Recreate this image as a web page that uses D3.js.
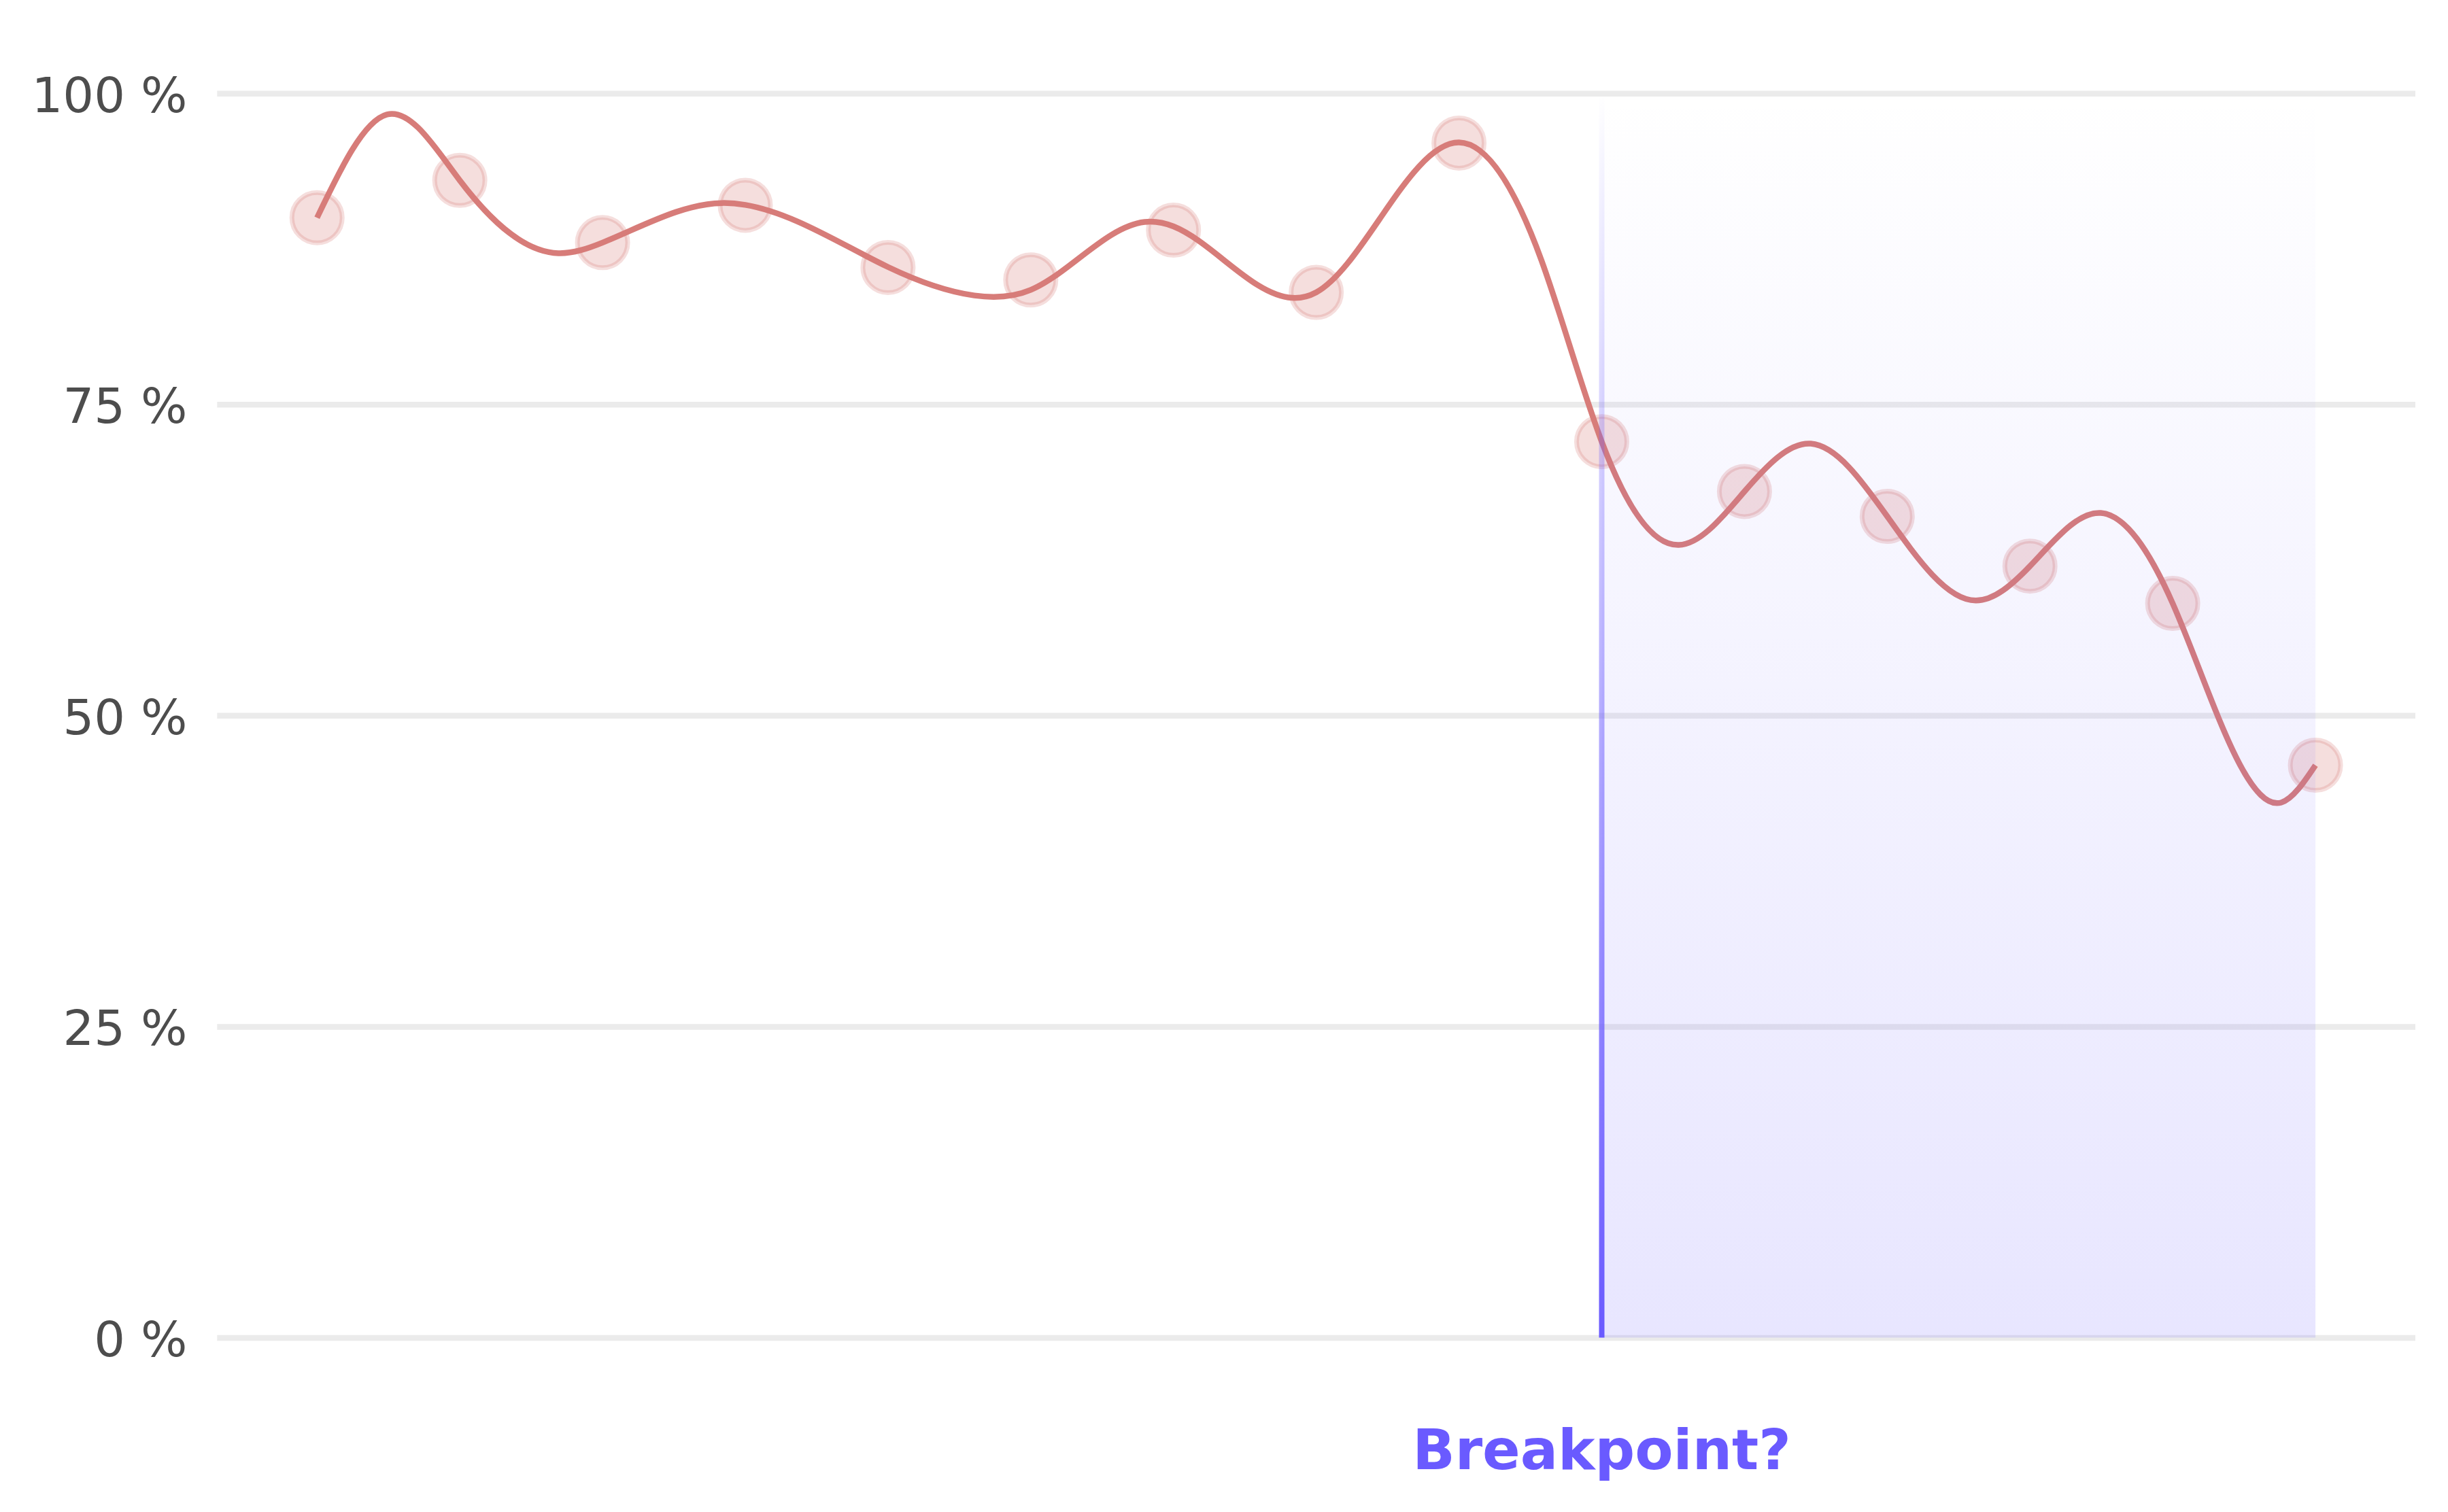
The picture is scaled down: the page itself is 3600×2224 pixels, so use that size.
<!DOCTYPE html>
<html>
<head>
<meta charset="utf-8">
<script src="https://cdn.jsdelivr.net/npm/d3@7"></script>
<style>
  html, body { margin: 0; padding: 0; background: #ffffff; }
  svg { display: block; font-family: "DejaVu Sans", sans-serif; }
</style>
</head>
<body>
<svg id="chart" width="3600" height="2224"></svg>
<script>
// ---- data ----
const periods = [0, 1, 2, 3, 4, 5, 6, 7, 8, 9, 10, 11, 12, 13, 14];
const shares  = [90, 93, 88, 91, 86, 85, 89, 84, 96, 72, 68, 66, 62, 59, 46];

// smooth trend line (position, value)
const trendPos = [0, 0.49, 1, 1.69, 2, 2.835, 3, 4, 4.605, 5, 5.797, 6, 6.83, 7, 8, 8.577, 9, 9.54, 10, 10.465, 11, 11.62, 12, 12.497, 13, 13.76, 14];
const trendVal = [90, 98.3, 93, 87.15, 88, 91.18, 91.03, 86.04, 83.75, 84.2, 89.66, 89.3, 83.56, 84.0, 96.05, 86.6, 72, 63.7, 68, 71.84, 66, 59.24, 62, 66.27, 59, 43.0, 46];

const yTicks = [0, 25, 50, 75, 100];
const yTickLabels = ["0 %", "25 %", "50 %", "75 %", "100 %"];

const breakIndex = 9;
const breakLabel = "Breakpoint?";

// ---- custom d3 curve: natural cubic spline y(x) with non-uniform x ----
function curveNaturalX(context) {
  let xs, ys;
  return {
    areaStart() {}, areaEnd() {},
    lineStart() { xs = []; ys = []; },
    point(px, py) { xs.push(+px); ys.push(+py); },
    lineEnd() {
      const n = xs.length;
      if (!n) return;
      context.moveTo(xs[0], ys[0]);
      if (n === 1) return;
      const h = [];
      for (let i = 0; i < n - 1; i++) h.push(xs[i + 1] - xs[i]);
      const M = new Array(n).fill(0);
      if (n > 2) {
        const m = n - 2;
        const a = new Array(m), b = new Array(m), c = new Array(m), r = new Array(m);
        for (let k = 0; k < m; k++) {
          const i = k + 1;
          a[k] = h[i - 1];
          b[k] = 2 * (h[i - 1] + h[i]);
          c[k] = h[i];
          r[k] = 6 * ((ys[i + 1] - ys[i]) / h[i] - (ys[i] - ys[i - 1]) / h[i - 1]);
        }
        for (let k = 1; k < m; k++) {
          const w = a[k] / b[k - 1];
          b[k] -= w * c[k - 1];
          r[k] -= w * r[k - 1];
        }
        const sol = new Array(m);
        sol[m - 1] = r[m - 1] / b[m - 1];
        for (let k = m - 2; k >= 0; k--) sol[k] = (r[k] - c[k] * sol[k + 1]) / b[k];
        for (let k = 0; k < m; k++) M[k + 1] = sol[k];
      }
      for (let i = 0; i < n - 1; i++) {
        const hi = h[i];
        const s = (ys[i + 1] - ys[i]) / hi;
        const m0 = s - hi * (2 * M[i] + M[i + 1]) / 6;
        const m1 = s + hi * (M[i] + 2 * M[i + 1]) / 6;
        context.bezierCurveTo(
          xs[i] + hi / 3, ys[i] + m0 * hi / 3,
          xs[i + 1] - hi / 3, ys[i + 1] - m1 * hi / 3,
          xs[i + 1], ys[i + 1]);
      }
    }
  };
}

// ---- layout ----
const W = 3600, H = 2224;
const plotLeft = 319.3, plotRight = 3552;
const yTop = 137.2, yBottom = 1967.5;

const svg = d3.select("#chart");
svg.append("rect").attr("width", W).attr("height", H).attr("fill", "#ffffff");

const x = d3.scaleLinear().domain([-0.7, 14.7]).range([plotLeft, plotRight]);
const y = d3.scaleLinear().domain([0, 100]).range([yBottom, yTop]);

const defs = svg.append("defs");
const shadeGrad = defs.append("linearGradient")
  .attr("id", "shadeGrad").attr("x1", 0).attr("y1", 0).attr("x2", 0).attr("y2", 1);
shadeGrad.append("stop").attr("offset", "0%").attr("stop-color", "#6a5cff").attr("stop-opacity", 0);
shadeGrad.append("stop").attr("offset", "100%").attr("stop-color", "#6a5cff").attr("stop-opacity", 0.155);

const lineGrad = defs.append("linearGradient")
  .attr("id", "lineGrad").attr("gradientUnits", "userSpaceOnUse")
  .attr("x1", 0).attr("y1", y(100)).attr("x2", 0).attr("y2", y(0));
lineGrad.append("stop").attr("offset", "0%").attr("stop-color", "#6a5aff").attr("stop-opacity", 0);
lineGrad.append("stop").attr("offset", "100%").attr("stop-color", "#6a5aff").attr("stop-opacity", 1);

// ---- gridlines + y labels ----
const yAxis = d3.axisLeft(y)
  .tickValues(yTicks)
  .tickFormat((d, i) => yTickLabels[i])
  .tickSize(-(plotRight - plotLeft))
  .tickPadding(44);

const gAxis = svg.append("g").attr("transform", `translate(${plotLeft},0)`).call(yAxis);
gAxis.select(".domain").remove();
gAxis.selectAll(".tick line").attr("stroke", "#ebebeb").attr("stroke-width", 8.5);
gAxis.selectAll(".tick text")
  .attr("fill", "#4d4d4d")
  .attr("font-size", 72)
  .attr("font-family", "DejaVu Sans, sans-serif")
  .attr("dy", "0.375em");

// ---- points ----
svg.append("g").selectAll("circle")
  .data(periods)
  .join("circle")
  .attr("cx", (d) => x(d))
  .attr("cy", (d, i) => y(shares[i]))
  .attr("r", 37)
  .attr("fill", "#d77c79").attr("fill-opacity", 0.25)
  .attr("stroke", "#d77c79").attr("stroke-opacity", 0.25)
  .attr("stroke-width", 7);

// ---- trend curve ----
const trend = trendPos.map((p, i) => ({ p, v: trendVal[i] }));
const line = d3.line().x(d => x(d.p)).y(d => y(d.v)).curve(curveNaturalX);
svg.append("path")
  .datum(trend)
  .attr("d", line)
  .attr("fill", "none")
  .attr("stroke", "#d77c79")
  .attr("stroke-width", 8.5)
  .attr("stroke-linecap", "butt");

// ---- shaded region after breakpoint ----
svg.append("rect")
  .attr("x", x(breakIndex))
  .attr("y", y(100))
  .attr("width", x(periods[periods.length - 1]) - x(breakIndex))
  .attr("height", y(0) - y(100))
  .attr("fill", "url(#shadeGrad)");

svg.append("line")
  .attr("x1", x(breakIndex)).attr("x2", x(breakIndex) + 0.001)
  .attr("y1", y(100)).attr("y2", y(0))
  .attr("stroke", "url(#lineGrad)")
  .attr("stroke-width", 8);

svg.append("text")
  .attr("x", x(breakIndex))
  .attr("y", 2161)
  .attr("text-anchor", "middle")
  .attr("font-family", "DejaVu Sans, sans-serif")
  .attr("font-weight", "bold")
  .attr("font-size", 82)
  .attr("fill", "#6a5aff")
  .text(breakLabel);
</script>
</body>
</html>
